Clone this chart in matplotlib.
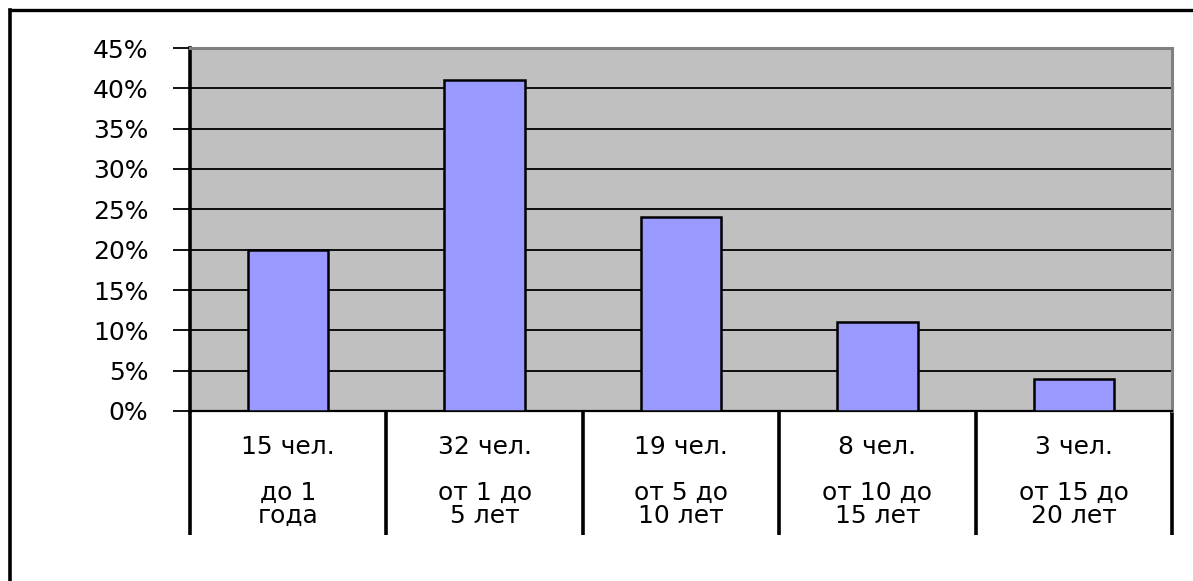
import matplotlib
matplotlib.use("Agg")
import matplotlib.pyplot as plt
from matplotlib.lines import Line2D

# ---- data ----
values = [20, 41, 24, 11, 4]  # percent
count_labels = ["15 чел.", "32 чел.", "19 чел.", "8 чел.", "3 чел."]
period_labels = ["до 1\nгода", "от 1 до\n5 лет", "от 5 до\n10 лет",
                 "от 10 до\n15 лет", "от 15 до\n20 лет"]
yticks = [0, 5, 10, 15, 20, 25, 30, 35, 40, 45]
ytick_labels = [f"{t}%" for t in yticks]

plt.rcParams['font.family'] = ['DejaVu Sans']
FS = 18

fig = plt.figure(figsize=(11.93, 5.81), dpi=100)
ax = fig.add_axes([190/1193, 170/581, 982/1193, 363/581])
ax.set_facecolor("#C0C0C0")

x = list(range(len(values)))
ax.bar(x, values, width=0.41, color="#9999FF", edgecolor="black", linewidth=1.8, zorder=3)

ax.set_xlim(-0.5, len(values) - 0.5)
ax.set_ylim(0, 45)
ax.set_yticks(yticks)
ax.set_yticklabels(ytick_labels, fontsize=FS)
ax.yaxis.grid(True, color="black", linewidth=1.3, zorder=1)
ax.set_axisbelow(True)
ax.tick_params(axis="y", direction="out", length=12, width=1.3, pad=18, left=True)
ax.set_xticks([])

for side in ["top", "right"]:
    ax.spines[side].set_color("#808080")
    ax.spines[side].set_linewidth(2.2)
ax.spines["left"].set_color("black")
ax.spines["left"].set_linewidth(2.6)
ax.spines["bottom"].set_color("black")
ax.spines["bottom"].set_linewidth(1.6)

# category separators below the axis
xt = ax.get_xaxis_transform()
bounds = [i - 0.5 for i in range(len(values) + 1)]
ax.vlines(bounds, -124/363, 0, transform=xt, colors="black", linewidth=2.6, clip_on=False)

# category labels
for i in x:
    ax.text(i, -36/363, count_labels[i], transform=xt, ha="center", va="center", fontsize=FS)
    ax.text(i, -93/363, period_labels[i], transform=xt, ha="center", va="center",
            fontsize=FS, linespacing=0.95, multialignment="center")

# outer frame (top and left)
fig.add_artist(Line2D([10/1193, 10/1193], [0, 1 - 10/581], color="black", linewidth=2.6))
fig.add_artist(Line2D([10/1193, 1], [1 - 10/581, 1 - 10/581], color="black", linewidth=2.4))

fig.savefig("out.png", dpi=100, facecolor="white")
